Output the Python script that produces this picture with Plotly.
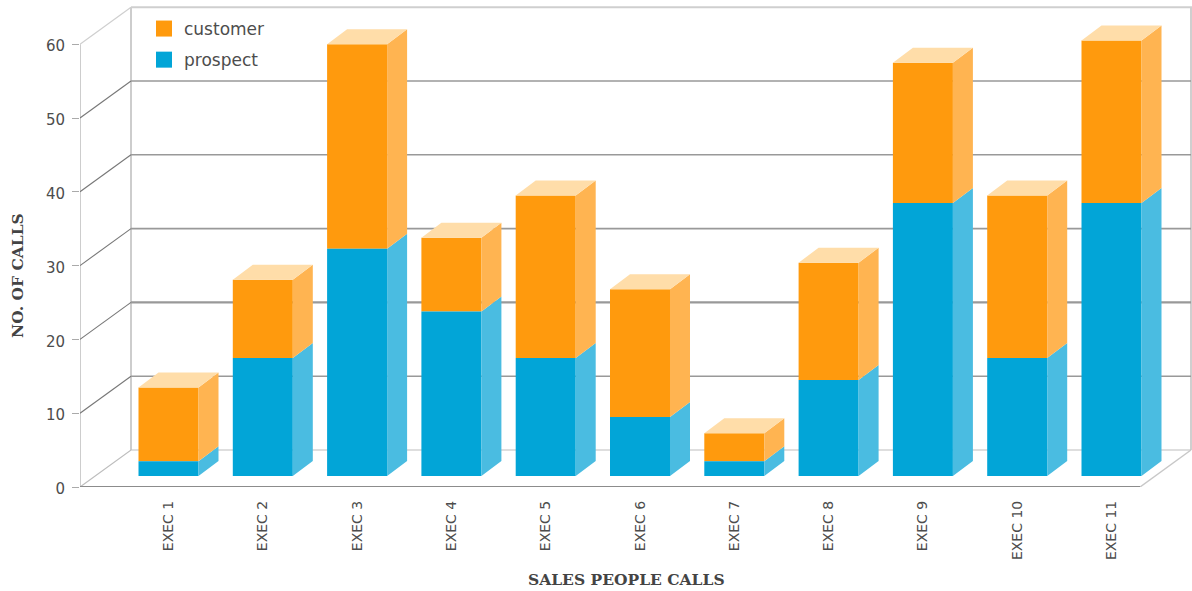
import plotly.graph_objects as go

categories = ["EXEC 1", "EXEC 2", "EXEC 3", "EXEC 4", "EXEC 5", "EXEC 6",
              "EXEC 7", "EXEC 8", "EXEC 9", "EXEC 10", "EXEC 11"]
prospect = [2, 16, 30.8, 22.3, 16, 8, 2, 13, 37, 16, 37]
customer = [10, 10.6, 27.7, 10, 22, 17.3, 3.8, 15.9, 19, 22, 22]
y_ticks = [0, 10, 20, 30, 40, 50, 60]
series_names = ["customer", "prospect"]

W, H = 1192, 591
PX_PER_CAT, PX_PER_VAL = 94.3, 7.38
ZERO_X, ZERO_Y, LEFT = 168.5, 487, 80
x_range = [(LEFT - ZERO_X) / PX_PER_CAT, (W - ZERO_X) / PX_PER_CAT]
y_range = [0, ZERO_Y / PX_PER_VAL]
x_right = (1140 - ZERO_X) / PX_PER_CAT
wall_dx, wall_dy = 51 / PX_PER_CAT, 37 / PX_PER_VAL
bar_dx, bar_dy = 20 / PX_PER_CAT, 15 / PX_PER_VAL
bar_w = 60 / PX_PER_CAT
lift = 11 / PX_PER_VAL
x_left = x_range[0]

ORANGE, ORANGE_SIDE, ORANGE_TOP = "#FF9A0D", "#FFB451", "#FFDDA9"
BLUE, BLUE_SIDE = "#02A5D7", "#4ABCE1"
TXT = "#4d4d4d"

fig = go.Figure()


def line(xs, ys, color, width):
    fig.add_trace(go.Scatter(x=xs, y=ys, mode="lines", showlegend=False, hoverinfo="skip",
                             cliponaxis=False, line=dict(color=color, width=width)))


# walls and floor (lower subplot)
bx, by = x_left + wall_dx, wall_dy
line([x_left, x_left], [0, 60], "#bdbdbd", 1.5)
line([bx, bx], [by, 60 + by], "#bdbdbd", 1.5)
line([bx, x_right + wall_dx, x_right + wall_dx], [60 + by, 60 + by, by], "#cfcfcf", 2)
line([x_left, bx], [60, 60 + by], "#cfcfcf", 1.2)
line([x_left, bx, x_right + wall_dx], [0, by, by], "#bdbdbd", 1.2)
line([x_right, x_right + wall_dx], [0, by], "#c8c8c8", 1.5)
for v in y_ticks[1:-1]:
    line([x_left, bx], [v, v + by], "#777777", 1.1)
    line([bx, x_right + wall_dx], [v + by, v + by], "#999999", 2.4 if v == 20 else 1.6)
line([x_left, x_right], [0, 0], "#8c8c8c", 1.8)
for px in (80, 226.5, 374.5, 523):
    xv = (px - ZERO_X) / PX_PER_CAT
    line([xv, xv], [0, -8 / PX_PER_VAL], "#aaaaaa", 1)

# front faces
bases_c = [lift + p for p in prospect]
fig.add_trace(go.Bar(x=list(range(11)), y=customer, base=bases_c, width=bar_w, name=series_names[0],
                     showlegend=False, marker=dict(color=ORANGE, line_width=0), xaxis="x2", yaxis="y2"))
fig.add_trace(go.Bar(x=list(range(11)), y=prospect, base=[lift] * 11, width=bar_w, name=series_names[1],
                     showlegend=False, marker=dict(color=BLUE, line_width=0), xaxis="x2", yaxis="y2"))


def poly(xs, ys, color):
    fig.add_trace(go.Scatter(x=xs, y=ys, mode="lines", fill="toself", fillcolor=color,
                             line=dict(width=0), showlegend=False, hoverinfo="skip",
                             xaxis="x2", yaxis="y2"))


# side and top faces derived from the data
sx_b, sy_b, sx_c, sy_c, tx, ty = [], [], [], [], [], []
for i, (p, c) in enumerate(zip(prospect, customer)):
    r = i + bar_w / 2
    l = i - bar_w / 2
    y0, y1, y2 = lift, lift + p, lift + p + c
    sx_b += [r, r + bar_dx, r + bar_dx, r, r, None]
    sy_b += [y0, y0 + bar_dy, y1 + bar_dy, y1, y0, None]
    sx_c += [r, r + bar_dx, r + bar_dx, r, r, None]
    sy_c += [y1, y1 + bar_dy, y2 + bar_dy, y2, y1, None]
    tx += [l, r, r + bar_dx, l + bar_dx, l, None]
    ty += [y2, y2, y2 + bar_dy, y2 + bar_dy, y2, None]
poly(sx_b, sy_b, BLUE_SIDE)
poly(sx_c, sy_c, ORANGE_SIDE)
poly(tx, ty, ORANGE_TOP)

# legend entries with large square swatches
for name, color in zip(series_names, (ORANGE, BLUE)):
    fig.add_trace(go.Scatter(x=[None], y=[None], mode="markers", name=name, legendgroup=name,
                             marker=dict(symbol="square", size=16, color=color),
                             xaxis="x2", yaxis="y2"))

fig.update_layout(
    width=W, height=H, autosize=False,
    margin=dict(l=LEFT, r=0, t=0, b=H - ZERO_Y, pad=0),
    paper_bgcolor="white", plot_bgcolor="white",
    barmode="overlay",
    font=dict(family="DejaVu Sans", color=TXT),
    xaxis=dict(range=x_range, tickmode="array", tickvals=list(range(11)), ticktext=categories,
               tickangle=-90, tickfont=dict(size=14, color=TXT), showgrid=False, zeroline=False,
               showline=False, ticks="", ticklabelstandoff=10),
    yaxis=dict(range=y_range, tickmode="array", tickvals=y_ticks, tickfont=dict(size=15, color=TXT),
               showgrid=False, zeroline=False, showline=False, ticks="outside", ticklen=7,
               tickcolor="#aaaaaa", tickwidth=1, ticklabelstandoff=4, ticklabelshift=2),
    xaxis2=dict(range=x_range, overlaying="x", visible=False),
    yaxis2=dict(range=y_range, overlaying="y", visible=False),
    legend=dict(x=(144 - LEFT) / (W - LEFT), y=1 - 11 / ZERO_Y, xanchor="left", yanchor="top",
                traceorder="grouped", font=dict(size=17, color=TXT), bgcolor="rgba(0,0,0,0)",
                itemsizing="trace", itemwidth=30, tracegroupgap=6),
    annotations=[
        dict(text="<b>SALES PEOPLE CALLS</b>", xref="paper", yref="paper",
             x=(626 - LEFT) / (W - LEFT), y=-(579 - ZERO_Y) / ZERO_Y, showarrow=False,
             xanchor="center", yanchor="middle",
             font=dict(family="DejaVu Serif", size=15.5, color="#444444")),
        dict(text="<b>NO. OF CALLS</b>", xref="paper", yref="paper", textangle=-90,
             x=-(80 - 17) / (W - LEFT), y=1 - 276 / ZERO_Y, showarrow=False,
             xanchor="center", yanchor="middle",
             font=dict(family="DejaVu Serif", size=15.5, color="#444444")),
    ],
)

fig.write_html("out.html", config={"displayModeBar": False},
               post_script="document.body.style.margin='0';document.body.style.overflow='hidden';")
